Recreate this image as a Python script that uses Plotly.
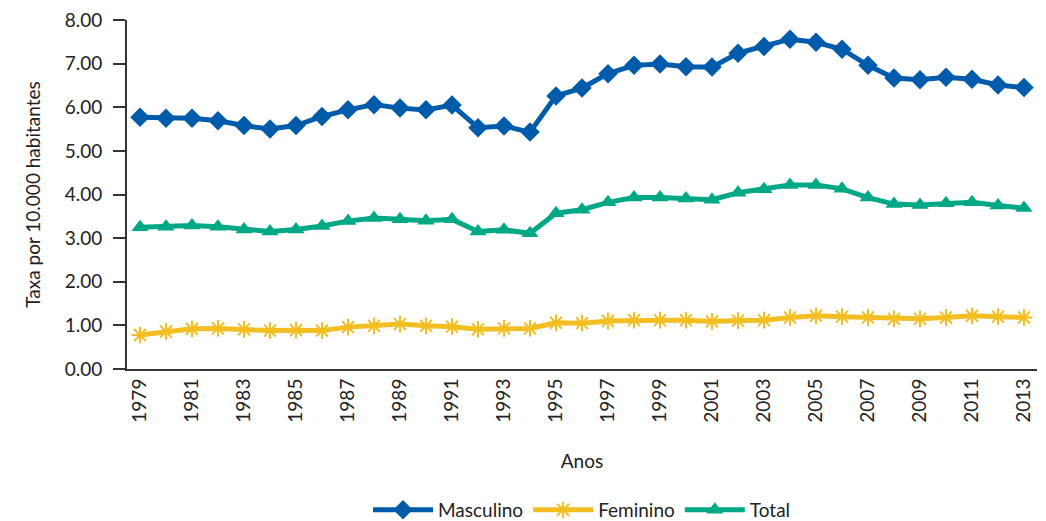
import plotly.graph_objects as go

anos = list(range(1979, 2014))
masculino = [5.77, 5.75, 5.75, 5.69, 5.58, 5.50, 5.58, 5.79, 5.94, 6.06, 5.98,
             5.94, 6.05, 5.53, 5.57, 5.43, 6.26, 6.44, 6.77, 6.96, 6.99, 6.93,
             6.92, 7.24, 7.39, 7.56, 7.49, 7.33, 6.96, 6.67, 6.63, 6.69, 6.64,
             6.51, 6.45]
feminino = [0.78, 0.86, 0.92, 0.93, 0.91, 0.88, 0.89, 0.88, 0.96, 0.99, 1.03,
            0.99, 0.97, 0.91, 0.93, 0.93, 1.06, 1.05, 1.10, 1.12, 1.12, 1.12,
            1.09, 1.11, 1.12, 1.18, 1.22, 1.20, 1.18, 1.15, 1.15, 1.18, 1.22,
            1.20, 1.18]
total = [3.25, 3.26, 3.29, 3.26, 3.20, 3.15, 3.20, 3.28, 3.39, 3.46, 3.43,
         3.40, 3.43, 3.15, 3.19, 3.11, 3.57, 3.65, 3.82, 3.93, 3.93, 3.91,
         3.88, 4.04, 4.12, 4.22, 4.22, 4.13, 3.93, 3.78, 3.76, 3.80, 3.82,
         3.75, 3.69]
tick_years = list(range(1979, 2014, 2))
y_ticks = [0, 1, 2, 3, 4, 5, 6, 7, 8]

FONT = "Lato"

fig = go.Figure()
fig.add_trace(go.Scatter(
    x=anos, y=masculino, name="Masculino", mode="lines+markers",
    line=dict(color="#005BAA", width=5),
    marker=dict(symbol="diamond", size=15, color="#005BAA")))
fig.add_trace(go.Scatter(
    x=anos, y=feminino, name="Feminino", mode="lines+markers",
    line=dict(color="#F2BE22", width=5),
    marker=dict(symbol="asterisk-open", size=14, color="#F2BE22",
                line=dict(color="#F2BE22", width=2))))
fig.add_trace(go.Scatter(
    x=anos, y=total, name="Total", mode="lines+markers",
    line=dict(color="#00A886", width=5),
    marker=dict(symbol="triangle-up", size=15, color="#00A886")))

fig.update_layout(
    width=1046, height=521,
    margin=dict(l=127, r=9, t=20, b=152, autoexpand=False),
    paper_bgcolor="white", plot_bgcolor="white",
    font=dict(family=FONT, size=19, color="#222222"),
    showlegend=True,
    legend=dict(orientation="h", x=0.5, xanchor="center", y=-0.404, yanchor="middle",
                font=dict(size=19), itemwidth=60, traceorder="normal"),
    xaxis=dict(
        range=[1978.5, 2013.5], tickmode="array", tickvals=tick_years,
        ticktext=[str(v) for v in tick_years], tickangle=-90, automargin=False,
        showline=True, linecolor="#333333", linewidth=2, showgrid=False,
        zeroline=False, ticks="", tickfont=dict(size=19),
        title=dict(text="Anos", font=dict(size=19), standoff=33)),
    yaxis=dict(
        range=[0, 8], tickmode="array", tickvals=y_ticks, automargin=False,
        ticktext=[f"{v:.2f}" for v in y_ticks],
        showline=True, linecolor="#333333", linewidth=2, showgrid=False,
        zeroline=False, ticks="outside", ticklen=12, tickwidth=1.5,
        tickcolor="#333333", tickfont=dict(size=19), ticklabelstandoff=7,
        title=dict(text="Taxa por 10.000 habitantes", font=dict(size=19), standoff=19)),
)

fig.write_html("out.html", config={"displayModeBar": False},
               post_script="document.body.style.margin='0';document.body.style.overflow='hidden';")
